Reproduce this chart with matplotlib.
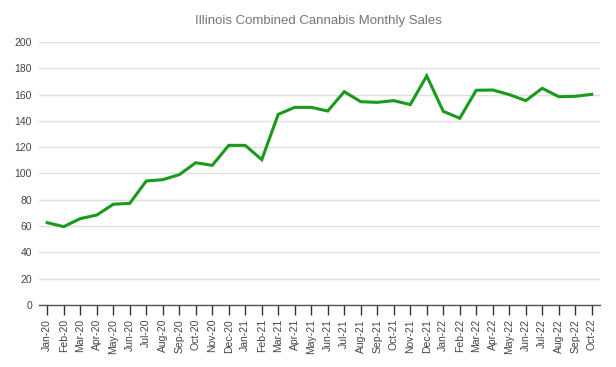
import matplotlib
matplotlib.use("Agg")
import matplotlib.pyplot as plt

months = ["Jan-20", "Feb-20", "Mar-20", "Apr-20", "May-20", "Jun-20", "Jul-20", "Aug-20",
          "Sep-20", "Oct-20", "Nov-20", "Dec-20", "Jan-21", "Feb-21", "Mar-21", "Apr-21",
          "May-21", "Jun-21", "Jul-21", "Aug-21", "Sep-21", "Oct-21", "Nov-21", "Dec-21",
          "Jan-22", "Feb-22", "Mar-22", "Apr-22", "May-22", "Jun-22", "Jul-22", "Aug-22",
          "Sep-22", "Oct-22"]
sales = [62.6, 59.6, 65.7, 68.4, 76.6, 77.3, 94.3, 95.3, 99.1, 108.2, 106.2, 121.4,
         121.4, 110.5, 145.0, 150.3, 150.3, 147.5, 162.2, 154.6, 154.1, 155.4, 152.4, 174.2,
         147.3, 142.0, 163.3, 163.5, 160.0, 155.4, 164.8, 158.4, 158.7, 160.2]
yticks = [0, 20, 40, 60, 80, 100, 120, 140, 160, 180, 200]

plt.rcParams['font.family'] = ['Liberation Sans', 'DejaVu Sans']

W, H = 616, 367
fig = plt.figure(figsize=(W / 100, H / 100), dpi=100)
ax = fig.add_axes([39 / W, 1 - 305 / H, (600 - 39) / W, (305 - 42) / H])

x = list(range(len(months)))
ax.plot(x, sales, color="#1a9a1a", linewidth=2.2, solid_joinstyle="miter", zorder=3)

ax.set_xlim(-0.5, len(months) - 0.5)
ax.set_ylim(0, 200)
ax.set_yticks(yticks)
ax.set_yticklabels([str(v) for v in yticks])
ax.set_xticks(x)
ax.set_xticklabels(months, rotation=90)

ax.grid(axis="y", color="#e0e0e0", linewidth=1.0, zorder=0)
ax.set_axisbelow(True)
for s in ["top", "right", "left"]:
    ax.spines[s].set_visible(False)
ax.spines["bottom"].set_color("#555555")
ax.spines["bottom"].set_linewidth(1.0)

ax.tick_params(axis="y", length=0, pad=5, labelsize=7.5, labelcolor="#444444")
ax.tick_params(axis="x", length=7, width=1, color="#333333", pad=3,
               labelsize=7.5, labelcolor="#444444")

fig.text(318 / W, 1 - 21 / H, "Illinois Combined Cannabis Monthly Sales",
         ha="center", va="center", fontsize=9.5, color="#757575")

fig.savefig("out.png", dpi=100, facecolor="white")
